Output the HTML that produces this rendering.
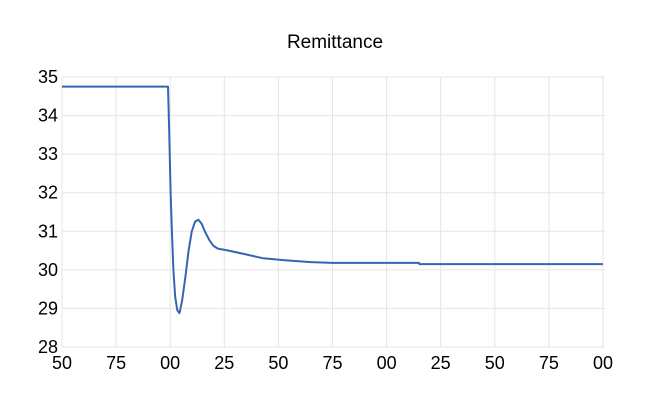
<!DOCTYPE html>
<html><head><meta charset="utf-8"><style>
body{margin:0;background:#fff;}
svg{display:block;font-family:"Liberation Sans",sans-serif;}
</style></head><body>
<svg width="652" height="403">
<text x="335" y="48" text-anchor="middle" font-size="19" fill="#000">Remittance</text>
<g id="grid"></g><g id="axes"></g><g id="plot"></g>
</svg>
<script>
const years=[1950,1999,1999.6,2000.2,2000.8,2001.5,2002.3,2003.3,2004.3,2005.5,2007,2008.5,2010,2011.5,2013,2014.5,2016,2018,2020,2022,2027,2035,2043,2053,2065,2075,2115,2115.1,2200];
const values=[34.75,34.75,33.5,32.0,31.0,30.0,29.3,28.95,28.88,29.2,29.8,30.5,31.0,31.25,31.3,31.2,31.0,30.78,30.62,30.55,30.5,30.4,30.3,30.25,30.2,30.18,30.18,30.15,30.15];
const yTicks=[28,29,30,31,32,33,34,35];
const xTicks=[1950,1975,2000,2025,2050,2075,2100,2125,2150,2175,2200];
const x0=62,x1=603,yTop=77,yBot=347;
const X=t=>x0+(t-1950)/250*(x1-x0);
const Y=v=>yBot-(v-28)/7*(yBot-yTop);
const NS="http://www.w3.org/2000/svg";
const grid=document.getElementById('grid'),axes=document.getElementById('axes'),plot=document.getElementById('plot');
function mk(tag,attrs,parent){const e=document.createElementNS(NS,tag);for(const k in attrs)e.setAttribute(k,attrs[k]);parent.appendChild(e);return e;}
yTicks.forEach(v=>{
 const l=mk('line',{x1:x0,x2:x1+2,y1:Y(v),y2:Y(v),stroke:'#e5e5e5','stroke-width':1},grid);
 
 
 const t=mk('text',{x:x0-4,y:Y(v)+6,'text-anchor':'end','font-size':18,fill:'#000'},axes);
 t.textContent=String(v);
 
 
});
xTicks.forEach(yr=>{
 const l=mk('line',{x1:X(yr),x2:X(yr),y1:yTop,y2:yBot,stroke:'#e5e5e5','stroke-width':1},grid);
 
 
 const t=mk('text',{x:X(yr),y:369,'text-anchor':'middle','font-size':18,fill:'#000'},axes);
 t.textContent=String(yr%100).padStart(2,'0');
 
 
});
const d=years.map((t,i)=>(i?'L':'M')+X(t).toFixed(1)+','+Y(values[i]).toFixed(1)).join(' ');
const p=mk('path',{d:d,fill:'none',stroke:'#3465b3','stroke-width':2,'stroke-linejoin':'round'},plot);


</script>
</body></html>
